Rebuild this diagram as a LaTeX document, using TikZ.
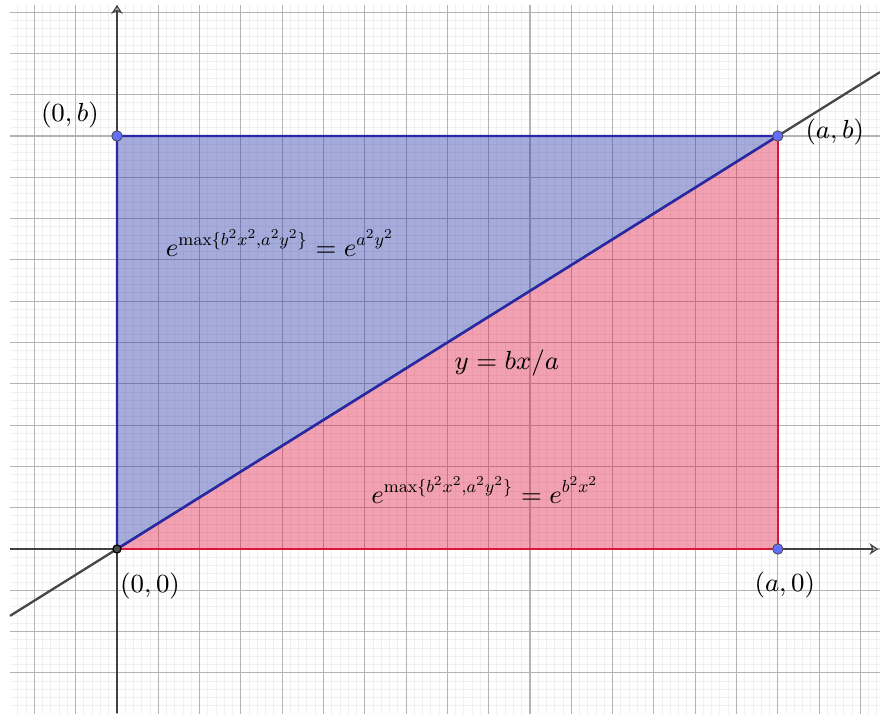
\documentclass[tikz,border=0pt]{standalone}
\usepackage{amsmath}
\usepackage{graphicx}
\usetikzlibrary{arrows.meta}
\definecolor{blueedge}{RGB}{40,40,168}
\definecolor{bluefill}{RGB}{40,55,170}
\definecolor{rededge}{RGB}{220,20,60}
\definecolor{ptblue}{RGB}{100,110,255}
\newcommand{\sm}[1]{\scalebox{0.67}{$#1$}}

\begin{document}
\begin{tikzpicture}[x=0.5cm,y=0.5cm,>={Stealth[open,length=3pt,width=4pt]},
    font=\fontsize{9.4}{11.5}\selectfont,
    minorgrid/.style={gray!12,line width=0.35pt},
    majorgrid/.style={gray!58,line width=0.4pt},
    axisline/.style={black!75,line width=0.4pt},
    geoline/.style={black!72,line width=0.8pt},
    ptdot/.style={fill=ptblue,draw=black!70,line width=0.3pt}]
  \useasboundingbox (-2.833,-3.971) rectangle (18.475,13.293);
  % grid
  \begin{scope}
    \clip (-2.59,-3.971) rectangle (18.475,13.17);
    \foreach \k in {-15,...,95} \draw[minorgrid] (\k/5,-4) -- (\k/5,14);
    \foreach \k in {-20,...,70} \draw[minorgrid] (-3,\k/5) -- (19,\k/5);
    \foreach \k in {-3,...,19} \draw[majorgrid] (\k,-4) -- (\k,14);
    \foreach \k in {-4,...,14} \draw[majorgrid] (-3,\k) -- (19,\k);
  \end{scope}
  % corners
  \coordinate (o) at (0,0);
  \coordinate (a0) at (16,0);
  \coordinate (ab) at (16,10);
  \coordinate (ob) at (0,10);
  \coordinate (l1) at (-2.59,-1.619);
  \coordinate (l2) at (18.475,11.547);
  \coordinate (xend) at (18.43,0);
  \coordinate (xstart) at (-2.59,0);
  \coordinate (yend) at (0,13.17);
  \coordinate (ystart) at (0,-3.971);
  % regions
  \fill[bluefill,opacity=0.42] (o) -- (ob) -- (ab) -- cycle;
  \fill[rededge,opacity=0.4] (o) -- (a0) -- (ab) -- cycle;
  % axes
  \draw[axisline,->] (xstart) -- (xend);
  \draw[axisline,->] (ystart) -- (yend);
  \draw[geoline] (l1) -- (l2);
  \draw[rededge,line width=0.85pt] (o) -- (a0) -- (ab);
  \draw[blueedge,line width=0.85pt] (ab) -- (ob) -- (o) -- cycle;
  % points
  \filldraw[ptdot] (ob) circle (1.8pt);
  \filldraw[ptdot] (ab) circle (1.8pt);
  \filldraw[ptdot] (a0) circle (1.8pt);
  \filldraw[fill=black!70,draw=black] (o) circle (1.4pt);
  % labels
  \node (lob) at (-1.14,10.51) {$(0,b)$};
  \node (lab) at (17.38,10.10) {$(a,b)$};
  \node (lo) at (0.80,-0.90) {$(0,0)$};
  \node (la0) at (16.17,-0.87) {$(a,0)$};
  \node (top) at (3.95,7.41) {$e^{\sm{\max\{b^2x^2{,}a^2y^2\}}}=e^{\sm{a^2y^2}}$};
  \node (eq) at (9.44,4.50) {$y=bx/a$};
  \node (bot) at (8.91,1.43) {$e^{\sm{\max\{b^2x^2{,}a^2y^2\}}}=e^{\sm{b^2x^2}}$};
\end{tikzpicture}
\end{document}
